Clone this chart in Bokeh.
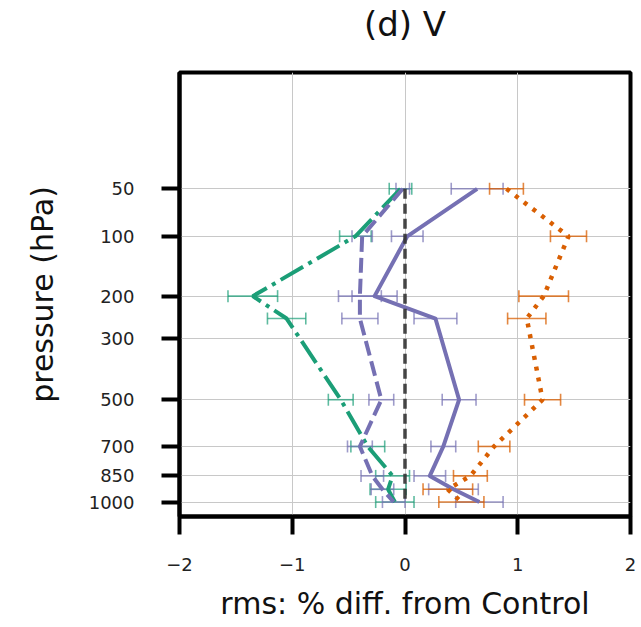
import numpy as np
from bokeh.plotting import figure
from bokeh.models import (Range1d, FixedTicker, CustomJSTickFormatter, Whisker,
                          TeeHead, ColumnDataSource, Title)
from bokeh.embed import file_html
from bokeh.resources import INLINE

# ---------------- data ----------------
levels = [50, 100, 200, 250, 500, 700, 850, 925, 1000]

y_tick_levels = [50, 100, 200, 300, 500, 700, 850, 1000]
y_tick_labels = ["50", "100", "200", "300", "500", "700", "850", "1000"]
x_tick_values = [-2, -1, 0, 1, 2]
x_tick_labels = ["\u22122", "\u22121", "0", "1", "2"]

green_mean = [-0.04, -0.44, -1.35, -1.05, -0.57, -0.33, -0.11, -0.15, -0.09]
green_err = [0.10, 0.14, 0.22, 0.17, 0.11, 0.15, 0.15, 0.16, 0.17]

purple_dash_mean = [-0.02, -0.38, -0.40, -0.40, -0.21, -0.40, -0.29, -0.20, -0.10]
purple_dash_err = [0.06, 0.09, 0.19, 0.16, 0.11, 0.11, 0.10, 0.10, 0.10]

purple_mean = [0.64, 0.02, -0.27, 0.27, 0.48, 0.34, 0.22, 0.43, 0.66]
purple_err = [0.23, 0.14, 0.20, 0.19, 0.15, 0.11, 0.14, 0.22, 0.21]

orange_mean = [0.90, 1.45, 1.23, 1.08, 1.22, 0.79, 0.58, 0.38, 0.50]
orange_err = [0.15, 0.16, 0.22, 0.17, 0.16, 0.14, 0.15, 0.22, 0.20]

control = [0, 0, 0, 0, 0, 0, 0, 0, 0]

title_text = "(d) V"
p_bottom, p_top = 1090.0, 2.4

GREEN = "#1b9e77"
ORANGE = "#d95f02"
PURPLE = "#7570b3"
FONT = "DejaVu Sans"


def yt(v):
    # pressure axis drawn on a cube-root scale
    return np.cbrt(np.asarray(v, dtype=float))


ylev = yt(levels)

p = figure(width=638, height=627, output_backend="svg", toolbar_location=None,
           x_range=Range1d(-2, 2), y_range=Range1d(float(yt(p_bottom)), float(yt(p_top))),
           min_border_left=179, min_border_right=8, min_border_top=72,
           min_border_bottom=111, title=None)

# spacer between frame and title (keeps the title near the top edge)
p.add_layout(Title(text=" ", text_font=FONT, text_font_size="10px", standoff=12), "above")
p.add_layout(Title(text=title_text, text_font=FONT, text_font_size="34px",
                   text_font_style="normal", align="center", vertical_align="top",
                   text_color="#111111", standoff=4), "above")

p.outline_line_color = "black"
p.outline_line_width = 4
p.outline_line_alpha = 1.0
p.background_fill_color = "white"
p.border_fill_color = "white"

p.xaxis.ticker = FixedTicker(ticks=x_tick_values)
p.xaxis.formatter = CustomJSTickFormatter(
    args=dict(vals=x_tick_values, labs=x_tick_labels),
    code="""
    let best = 0, d = 1e9;
    for (let i = 0; i < vals.length; i++) {
        const dd = Math.abs(vals[i] - tick);
        if (dd < d) { d = dd; best = i; }
    }
    return labs[best];
    """)
p.yaxis.ticker = FixedTicker(ticks=[float(v) for v in yt(y_tick_levels)])
p.yaxis.formatter = CustomJSTickFormatter(
    args=dict(vals=[float(v) for v in yt(y_tick_levels)], labs=y_tick_labels),
    code="""
    let best = 0, d = 1e9;
    for (let i = 0; i < vals.length; i++) {
        const dd = Math.abs(vals[i] - tick);
        if (dd < d) { d = dd; best = i; }
    }
    return labs[best];
    """)

for ax in (p.xaxis[0], p.yaxis[0]):
    ax.axis_line_color = "black"
    ax.axis_line_width = 4
    ax.major_tick_line_color = "black"
    ax.major_tick_line_width = 4
    ax.major_tick_out = 18
    ax.major_tick_in = 0
    ax.minor_tick_out = 0
    ax.minor_tick_in = 0
    ax.major_label_text_font = FONT
    ax.major_label_text_font_size = "18px"
    ax.major_label_text_color = "#222222"
    ax.axis_label_text_font = FONT
    ax.axis_label_text_font_style = "normal"
    ax.axis_label_text_color = "#111111"

p.xaxis.axis_label = "rms: % diff. from Control"
p.yaxis.axis_label = "pressure (hPa)"
p.xaxis.axis_label_text_font_size = "30px"
p.yaxis.axis_label_text_font_size = "30px"
p.xaxis.major_label_standoff = 23
p.yaxis.major_label_standoff = 27
p.xaxis.axis_label_standoff = 12
p.yaxis.axis_label_standoff = 26

p.grid.grid_line_color = "#c8c8c8"
p.grid.grid_line_width = 1


def add_errbars(mean, err, color, alpha):
    m = np.asarray(mean)
    e = np.asarray(err)
    src = ColumnDataSource(dict(y=ylev, lo=m - e, hi=m + e))
    w = Whisker(source=src, base="y", lower="lo", upper="hi", dimension="width",
                line_color=color, line_alpha=alpha, line_width=1.6,
                upper_head=TeeHead(size=12, line_color=color, line_alpha=alpha, line_width=1.6),
                lower_head=TeeHead(size=12, line_color=color, line_alpha=alpha, line_width=1.6))
    p.add_layout(w)


add_errbars(green_mean, green_err, GREEN, 0.7)
add_errbars(purple_dash_mean, purple_dash_err, PURPLE, 0.7)
add_errbars(purple_mean, purple_err, PURPLE, 0.7)
add_errbars(orange_mean, orange_err, ORANGE, 0.75)

p.line(green_mean, ylev, line_color=GREEN, line_width=4, line_dash="26 6 4 6")
p.line(purple_dash_mean, ylev, line_color=PURPLE, line_width=4, line_dash="15 6")
p.line(purple_mean, ylev, line_color=PURPLE, line_width=4, line_join="round")
p.line(orange_mean, ylev, line_color=ORANGE, line_width=4.5, line_dash="4 7")
p.line(control, ylev, line_color="#333333", line_alpha=0.9, line_width=3.5, line_dash="10 5")

open("out.html", "w").write(file_html(p, INLINE))
